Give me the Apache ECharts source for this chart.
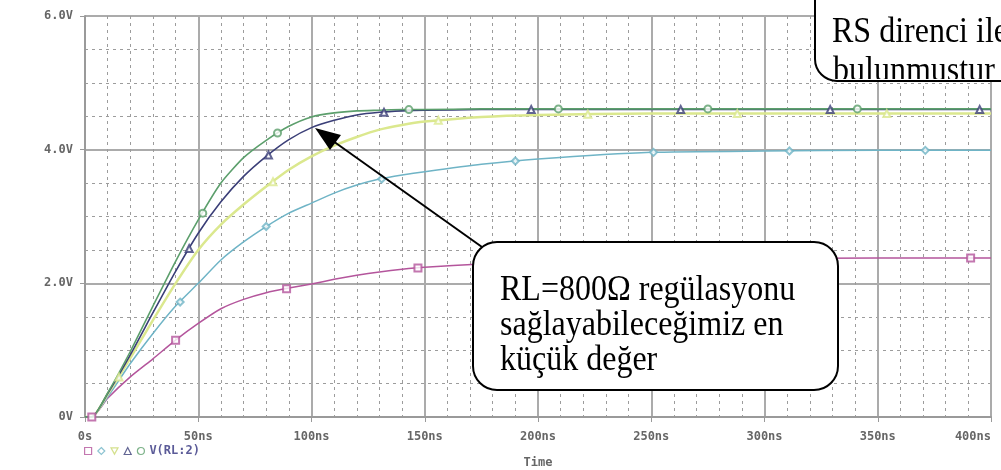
<!DOCTYPE html>
<html><head><meta charset="utf-8">
<script src="https://cdn.jsdelivr.net/npm/echarts@6/dist/echarts.min.js"></script>
<style>html,body{margin:0;padding:0;background:#fff}#c{width:1001px;height:470px}</style>
</head><body><div id="c"></div>
<script>
// ---- data (time in ns, voltage in V) ----
const timeNs   = [0,3,10,20,30,40,50,60,70,80,90,100,110,120,130,140,150,175,200,250,300,350,400];
const vGreen   = [0,0,0.36,0.98,1.66,2.33,2.95,3.50,3.88,4.14,4.35,4.49,4.55,4.58,4.59,4.60,4.60,4.61,4.61,4.61,4.61,4.61,4.61];
const vNavy    = [0,0,0.35,0.93,1.56,2.18,2.75,3.22,3.60,3.90,4.15,4.33,4.44,4.52,4.56,4.58,4.59,4.60,4.60,4.60,4.60,4.60,4.60];
const vYellow  = [0,0,0.34,0.88,1.45,2.00,2.50,2.88,3.18,3.45,3.70,3.90,4.06,4.19,4.30,4.37,4.42,4.49,4.52,4.54,4.54,4.54,4.54];
const vCyan    = [0,0,0.30,0.80,1.25,1.66,2.00,2.35,2.62,2.85,3.05,3.20,3.35,3.47,3.56,3.62,3.67,3.78,3.86,3.96,3.98,3.99,3.99];
const vPink    = [0,0,0.28,0.60,0.87,1.15,1.40,1.62,1.76,1.86,1.93,1.99,2.06,2.12,2.17,2.21,2.24,2.29,2.32,2.35,2.37,2.38,2.38];
// marker positions [t, V]
const mkPink   = [[3,0],[40,1.15],[89,1.92],[147,2.23],[391,2.38]];
const mkCyan   = [[42,1.72],[80,2.85],[131,3.56],[190,3.83],[251,3.96],[311,3.98],[371,3.99]];
const mkYellow = [[15,0.6],[83,3.52],[156,4.44],[222,4.53],[288,4.54],[354,4.54]];
const mkNavy   = [[46,2.52],[81,3.92],[132,4.56],[197,4.60],[263,4.60],[329,4.60],[395,4.60]];
const mkGreen  = [[52,3.05],[85,4.25],[143,4.60],[209,4.61],[275,4.61],[341,4.61]];
// tick labels / texts
const xTickLabels = ['0s','50ns','100ns','150ns','200ns','250ns','300ns','350ns','400ns'];
const yTickLabels = ['0V','2.0V','4.0V','6.0V'];
const legendText = 'V(RL:2)';
const xAxisTitle = 'Time';
const note1Lines = ['RL=800Ω regülasyonu','sağlayabileceğimiz en','küçük değer'];
const note2Lines = ['RS direnci ile','bulunmuştur'];

const C = {pink:'#b4559c', cyan:'#6fb4c6', yellow:'#dbe88e', navy:'#3b3f78', green:'#5c9f6c'};
const mono = 'DejaVu Sans Mono';
const pair = v => timeNs.map((t,i)=>[t,v[i]]);

function lineS(v,color,w){return {type:'line',data:pair(v),symbol:'none',smooth:0.2,
  lineStyle:{color:color,width:w},z:3,silent:true};}
function markS(name,d,sym,color){return {type:'scatter',name:name,data:d,symbol:sym,symbolSize:7,
  itemStyle:{color:color,borderWidth:1.2},z:4,silent:true};}
function noteText(x,y,t){return {type:'text',x:x,y:y,scaleY:1.15,
  style:{text:t,fontSize:32,fontFamily:'Liberation Serif',fill:'#000',verticalAlign:'top'},z:102};}

const chart = echarts.init(document.getElementById('c'),null,{renderer:'canvas'});
const option = {
  animation:false,
  backgroundColor:'#fff',
  grid:{left:85,right:10,top:16,bottom:53,containLabel:false,outerBoundsMode:'none'},
  xAxis:{type:'value',min:0,max:400,interval:50,
    name:xAxisTitle,nameLocation:'middle',nameGap:40,
    nameTextStyle:{fontFamily:mono,fontSize:12,fontWeight:'bold',color:'#666'},
    axisLine:{show:true,onZero:false,lineStyle:{color:'#9a9a9a',width:2}},
    axisTick:{show:true,length:5,lineStyle:{color:'#9a9a9a',width:1}},
    axisLabel:{margin:14,fontFamily:mono,fontSize:12,fontWeight:'bold',color:'#666',
      alignMaxLabel:'right',formatter:v=>xTickLabels[Math.round(v/50)]},
    splitLine:{show:true,lineStyle:{color:'#ababab',width:2}},
    minorTick:{show:false,splitNumber:5},
    minorSplitLine:{show:true,lineStyle:{color:'#9c9c9c',width:1,type:[3,4]}}
  },
  yAxis:{type:'value',min:0,max:6,interval:2,
    axisLine:{show:true,onZero:false,lineStyle:{color:'#9a9a9a',width:2}},
    axisTick:{show:true,length:5,lineStyle:{color:'#9a9a9a',width:1}},
    axisLabel:{margin:12,fontFamily:mono,fontSize:12,fontWeight:'bold',color:'#666',
      formatter:v=>yTickLabels[Math.round(v/2)]},
    splitLine:{show:true,lineStyle:{color:'#ababab',width:2}},
    minorTick:{show:false,splitNumber:4},
    minorSplitLine:{show:true,lineStyle:{color:'#9c9c9c',width:1,type:[3,4]}}
  },
  legend:{left:84,top:445,itemWidth:7,itemHeight:7,itemGap:5,padding:0,
    textStyle:{fontFamily:mono,fontSize:12,fontWeight:'bold',color:'#5b5b98'},
    formatter:n=>n==='s5'?legendText:'',
    data:[
      {name:'s1',icon:'rect',itemStyle:{color:'#fff',borderColor:C.pink,borderWidth:1.2}},
      {name:'s2',icon:'diamond',itemStyle:{color:'#fff',borderColor:C.cyan,borderWidth:1.2}},
      {name:'s3',icon:'path://M0,0L10,0L5,9Z',itemStyle:{color:'#fff',borderColor:'#c9d870',borderWidth:1.2}},
      {name:'s4',icon:'triangle',itemStyle:{color:'#fff',borderColor:C.navy,borderWidth:1.2}},
      {name:'s5',icon:'circle',itemStyle:{color:'#fff',borderColor:C.green,borderWidth:1.2}}
    ]},
  series:[
    lineS(vPink,C.pink,1.5),
    lineS(vCyan,C.cyan,1.5),
    lineS(vYellow,C.yellow,2.5),
    lineS(vNavy,C.navy,1.6),
    lineS(vGreen,C.green,1.6),
    markS('s1',mkPink,'emptyRect',C.pink),
    markS('s2',mkCyan,'emptyDiamond',C.cyan),
    markS('s3',mkYellow,'emptyTriangle',C.yellow),
    markS('s4',mkNavy,'emptyTriangle',C.navy),
    markS('s5',mkGreen,'emptyCircle',C.green)
  ],
  graphic:[
    {type:'line',shape:{x1:482,y1:247,x2:333,y2:141},style:{stroke:'#000',lineWidth:2},z:100},
    {type:'polygon',shape:{points:[[315,128],[330,150],[341,135]]},style:{fill:'#000'},z:100},
    {type:'rect',shape:{x:473,y:242,width:365,height:148,r:24},style:{fill:'#fff',stroke:'#000',lineWidth:2},z:101},
    noteText(500,272,note1Lines[0]),
    noteText(500,307,note1Lines[1]),
    noteText(500,342,note1Lines[2]),
    {type:'rect',shape:{x:815,y:-40,width:240,height:121,r:22},style:{fill:'#fff',stroke:'#000',lineWidth:2},z:101},
    noteText(832,14,note2Lines[0])
  ]
};
chart.setOption(option);

// second line of the top-right note, clipped by the box border
const zr = chart.getZr();
const grp = new echarts.graphic.Group();
const clipped = new echarts.graphic.Text({x:833,y:53,scaleY:1.15,z:103,
  style:{text:note2Lines[1],fontSize:32,fontFamily:'Liberation Serif',fill:'#000',verticalAlign:'top'}});
grp.add(clipped);
grp.setClipPath(new echarts.graphic.Rect({shape:{x:815,y:0,width:200,height:79}}));
zr.add(grp);
</script></body></html>
